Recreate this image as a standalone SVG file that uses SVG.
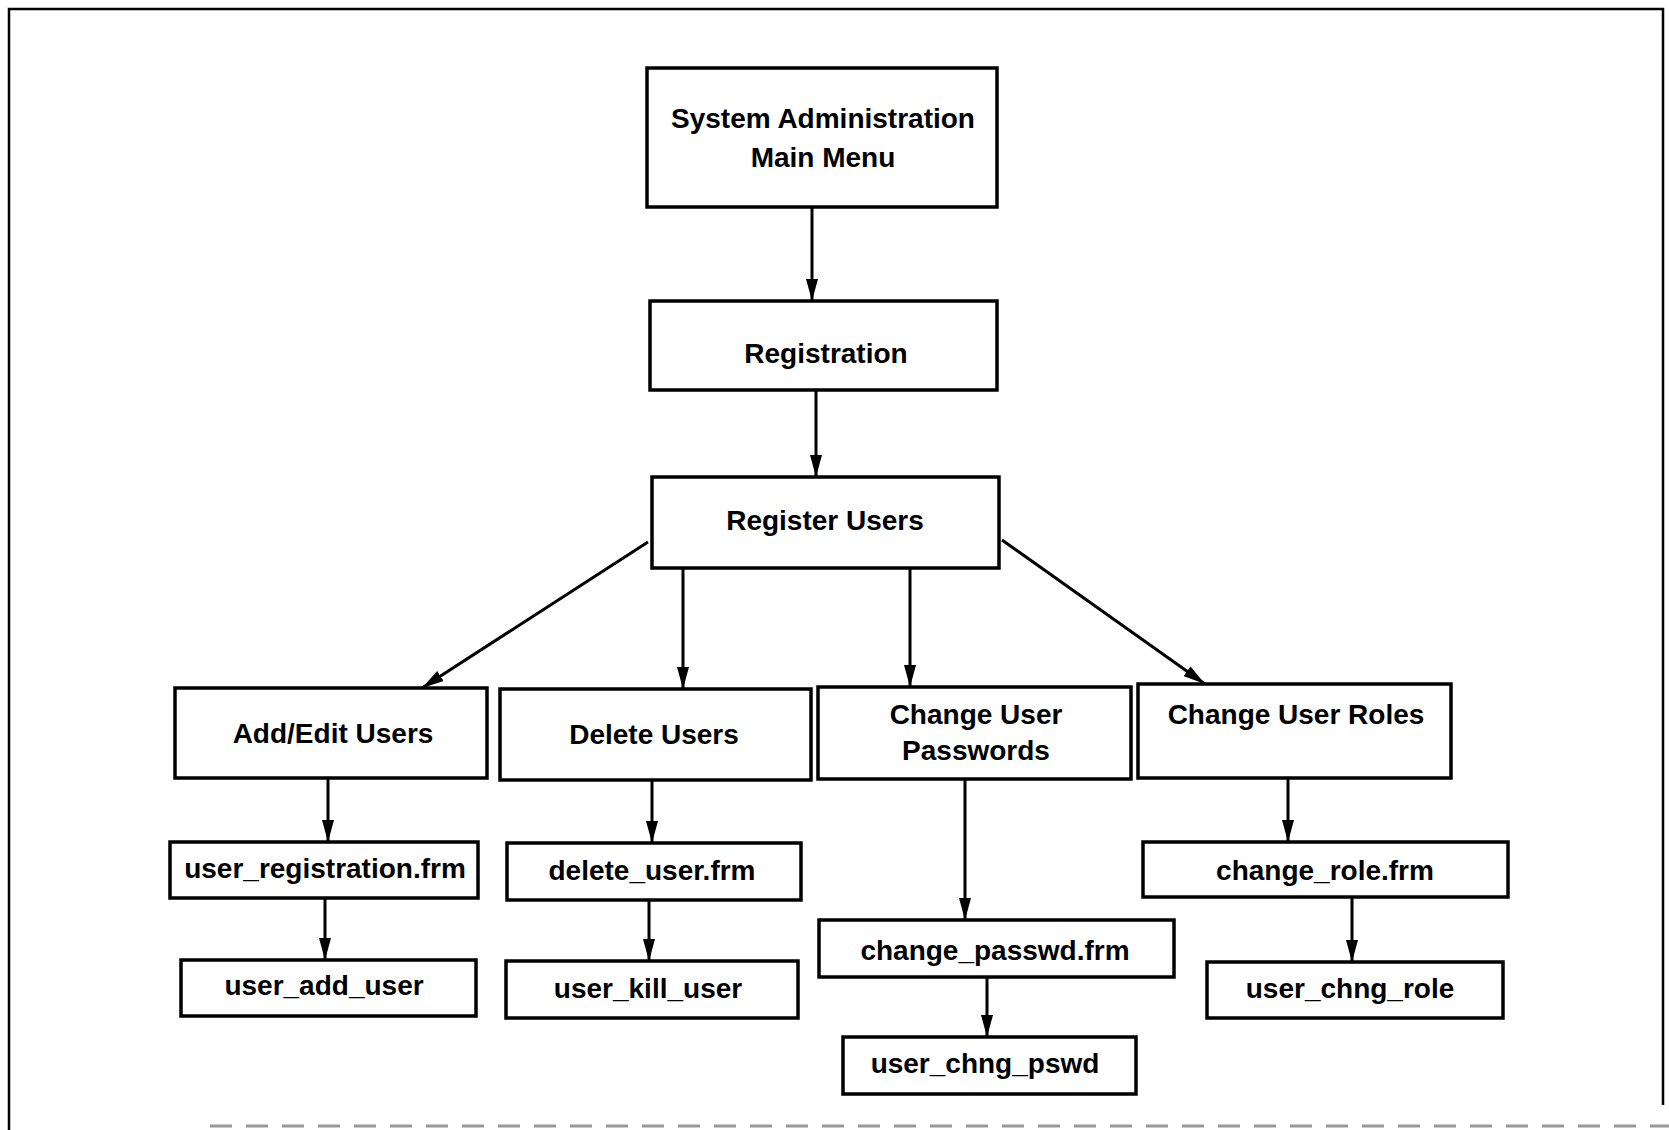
<svg xmlns="http://www.w3.org/2000/svg" width="1669" height="1130" viewBox="0 0 1669 1130">
<style>
.box{fill:#fff;stroke:#000;stroke-width:3.5}
.t{font-family:"Liberation Sans",Arial,sans-serif;font-weight:bold;font-size:28px;fill:#000;text-anchor:middle}
.c{stroke:#000;stroke-width:3;fill:none;marker-end:url(#ah)}
.frame{stroke:#000;stroke-width:2.5;fill:none}
</style>
<defs>
<marker id="ah" viewBox="0 0 22 12" refX="22" refY="6" markerWidth="22" markerHeight="12" markerUnits="userSpaceOnUse" orient="auto">
<path d="M0,0 L22,6 L0,12 z" fill="#000"/>
</marker>
</defs>
<rect width="1669" height="1130" fill="#fff"/>
<g id="frame">
<path class="frame" d="M9,1130 V9 H1663 V1105"/>
<line x1="210" y1="1126" x2="1669" y2="1126" stroke="#999" stroke-width="3" stroke-dasharray="22,14"/>
</g>
<g id="connectors">
<line class="c" x1="812" y1="207" x2="812" y2="301"/>
<line class="c" x1="816" y1="390" x2="816" y2="477"/>
<line class="c" x1="648" y1="542" x2="422" y2="688"/>
<line class="c" x1="683" y1="568" x2="683" y2="689"/>
<line class="c" x1="910" y1="568" x2="910" y2="687"/>
<line class="c" x1="1002" y1="540" x2="1205" y2="684"/>
<line class="c" x1="328" y1="778" x2="328" y2="842"/>
<line class="c" x1="325" y1="898" x2="325" y2="960"/>
<line class="c" x1="652" y1="780" x2="652" y2="843"/>
<line class="c" x1="649" y1="900" x2="649" y2="961"/>
<line class="c" x1="965" y1="779" x2="965" y2="920"/>
<line class="c" x1="987" y1="977" x2="987" y2="1037"/>
<line class="c" x1="1288" y1="778" x2="1288" y2="842"/>
<line class="c" x1="1352" y1="897" x2="1352" y2="962"/>
</g>
<g id="main-menu"><rect class="box" x="647" y="68" width="350" height="139"/><text class="t" x="823" y="128">System Administration</text><text class="t" x="823" y="167">Main Menu</text></g>
<g id="registration"><rect class="box" x="650" y="301" width="347" height="89"/><text class="t" x="826" y="363">Registration</text></g>
<g id="register-users"><rect class="box" x="652" y="477" width="347" height="91"/><text class="t" x="825" y="530">Register Users</text></g>
<g id="add-edit-users"><rect class="box" x="175" y="688" width="312" height="90"/><text class="t" x="333" y="743">Add/Edit Users</text></g>
<g id="delete-users"><rect class="box" x="500" y="689" width="311" height="91"/><text class="t" x="654" y="744">Delete Users</text></g>
<g id="change-user-passwords"><rect class="box" x="818" y="687" width="313" height="92"/><text class="t" x="976" y="724">Change User</text><text class="t" x="976" y="760">Passwords</text></g>
<g id="change-user-roles"><rect class="box" x="1138" y="684" width="313" height="94"/><text class="t" x="1296" y="724">Change User Roles</text></g>
<g id="user-registration-frm"><rect class="box" x="170" y="842" width="308" height="56"/><text class="t" x="325" y="878">user_registration.frm</text></g>
<g id="delete-user-frm"><rect class="box" x="507" y="843" width="294" height="57"/><text class="t" x="652" y="880">delete_user.frm</text></g>
<g id="user-add-user"><rect class="box" x="181" y="960" width="295" height="56"/><text class="t" x="324" y="995">user_add_user</text></g>
<g id="user-kill-user"><rect class="box" x="506" y="961" width="292" height="57"/><text class="t" x="648" y="998">user_kill_user</text></g>
<g id="change-passwd-frm"><rect class="box" x="819" y="920" width="355" height="57"/><text class="t" x="995" y="960">change_passwd.frm</text></g>
<g id="user-chng-pswd"><rect class="box" x="843" y="1037" width="293" height="57"/><text class="t" x="985" y="1073">user_chng_pswd</text></g>
<g id="change-role-frm"><rect class="box" x="1143" y="842" width="365" height="55"/><text class="t" x="1325" y="880">change_role.frm</text></g>
<g id="user-chng-role"><rect class="box" x="1207" y="962" width="296" height="56"/><text class="t" x="1350" y="998">user_chng_role</text></g>
</svg>
